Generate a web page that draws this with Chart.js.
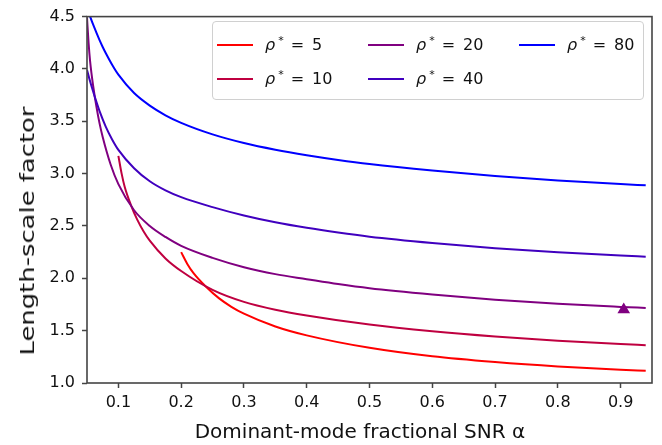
<!DOCTYPE html>
<html>
<head>
<meta charset="utf-8">
<script src="https://cdn.jsdelivr.net/npm/chart.js@4.4.1/dist/chart.umd.min.js"></script>
<style>
  body { margin: 0; background: #fff; }
  #wrap { position: relative; width: 662px; height: 445px; }
  #ylab {
    position: absolute; left: 27px; top: 231px; white-space: nowrap;
    font: 19px 'DejaVu Sans', sans-serif; color: #111;
    transform: translate(-50%, -50%) rotate(-90deg) scaleX(1.36);
  }
  #legend {
    position: absolute; left: 212px; top: 21px; width: 430px; height: 77px;
    border: 1px solid #d0d0d0; border-radius: 4px; background: rgba(255,255,255,0.85);
    font: 16px 'DejaVu Sans', sans-serif; color: #111;
  }
  .item { position: absolute; height: 20px; }
  .swatch { position: absolute; left: 0; top: 9px; width: 36px; height: 2px; }
  .lbl { position: absolute; left: 48px; top: 0; white-space: nowrap; line-height: 20px; }
  .lbl i { font-style: italic; }
  .lbl sup { font-size: 11px; vertical-align: 6px; line-height: 0; margin-left: 3px; }
  .lbl .eq { margin: 0 8px 0 7px; }
</style>
</head>
<body>
<div id="wrap">
  <canvas id="chart"></canvas>
  <div id="ylab">Length-scale factor</div>
  <div id="legend"></div>
</div>
<script>
// tick values
const xTicks = [0.1, 0.2, 0.3, 0.4, 0.5, 0.6, 0.7, 0.8, 0.9];
const yTicks = [1.0, 1.5, 2.0, 2.5, 3.0, 3.5, 4.0, 4.5];

// rho* values and colours (red -> blue)
const rhoValues = [5, 10, 20, 40, 80];
const rhoColors = ['#ff0000', '#bf0040', '#800080', '#4000bf', '#0000ff'];

// length-scale factor vs dominant-mode fractional SNR, one pair per curve
const alpha5 = [0.2, 0.21, 0.22, 0.24, 0.26, 0.28, 0.3, 0.35, 0.4, 0.5, 0.6, 0.7, 0.8, 0.9, 0.94];
const factor5 = [2.25, 2.135, 2.047, 1.917, 1.811, 1.728, 1.662, 1.54, 1.455, 1.336, 1.255, 1.20, 1.158, 1.127, 1.117];

const alpha10 = [0.1, 0.105, 0.11, 0.12, 0.13, 0.14, 0.15, 0.175, 0.2, 0.25, 0.3, 0.35, 0.4, 0.5, 0.6, 0.7, 0.8, 0.9, 0.94];
const factor10 = [3.17, 3.005, 2.875, 2.70, 2.56, 2.45, 2.36, 2.19, 2.07, 1.89, 1.775, 1.70, 1.645, 1.558, 1.494, 1.444, 1.404, 1.372, 1.361];

const alpha20 = [0.05, 0.0525, 0.055, 0.06, 0.065, 0.07, 0.075, 0.0875, 0.1, 0.125, 0.15, 0.175, 0.2, 0.25, 0.3, 0.35, 0.4, 0.45, 0.5, 0.6, 0.7, 0.8, 0.9, 0.94];
const factor20 = [4.49, 4.25, 4.07, 3.83, 3.64, 3.48, 3.35, 3.09, 2.90, 2.65, 2.50, 2.395, 2.31, 2.195, 2.106, 2.04, 1.992, 1.945, 1.905, 1.845, 1.795, 1.756, 1.727, 1.717];

const alpha40 = [0.05, 0.055, 0.06, 0.065, 0.07, 0.08, 0.09, 0.1, 0.125, 0.15, 0.175, 0.2, 0.25, 0.3, 0.35, 0.4, 0.45, 0.5, 0.6, 0.7, 0.8, 0.9, 0.94];
const factor40 = [3.99, 3.88, 3.78, 3.685, 3.597, 3.447, 3.327, 3.227, 3.052, 2.927, 2.84, 2.775, 2.68, 2.60, 2.535, 2.482, 2.437, 2.398, 2.338, 2.288, 2.248, 2.217, 2.207];

const alpha80 = [0.05, 0.055, 0.06, 0.07, 0.075, 0.08, 0.09, 0.1, 0.125, 0.15, 0.175, 0.2, 0.25, 0.3, 0.35, 0.4, 0.45, 0.5, 0.6, 0.7, 0.8, 0.9, 0.94];
const factor80 = [4.585, 4.50, 4.42, 4.275, 4.21, 4.15, 4.04, 3.945, 3.77, 3.65, 3.5575, 3.485, 3.375, 3.2925, 3.2285, 3.176, 3.131, 3.092, 3.03, 2.978, 2.935, 2.90, 2.889];

// marked point
const markerAlpha = [0.905];
const markerFactor = [1.70];

const alphas = [alpha5, alpha10, alpha20, alpha40, alpha80];
const factors = [factor5, factor10, factor20, factor40, factor80];

function pairs(xs, ys) {
    return xs.map((x, i) => ({ x: x, y: ys[i] }));
}

Chart.defaults.font.family = "'DejaVu Sans', sans-serif";
Chart.defaults.color = '#111';

const datasets = rhoValues.map((rho, i) => ({
    label: 'ρ* = ' + rho,
    data: pairs(alphas[i], factors[i]),
    borderColor: rhoColors[i],
    backgroundColor: rhoColors[i],
    borderWidth: 2,
    pointRadius: 0,
    cubicInterpolationMode: 'monotone',
    order: rhoValues.length - i
}));

datasets.push({
    label: 'marker',
    data: pairs(markerAlpha, markerFactor),
    showLine: false,
    pointStyle: 'triangle',
    pointRadius: 7.3,
    pointBackgroundColor: '#800080',
    pointBorderColor: '#800080',
    pointBorderWidth: 0,
    order: 0
});

// frame round the plot area
const frame = {
    id: 'frame',
    afterDatasetsDraw(chart) {
        const a = chart.chartArea;
        const ctx = chart.ctx;
        ctx.save();
        ctx.strokeStyle = '#444';
        ctx.lineWidth = 1.6;
        ctx.strokeRect(a.left, a.top, a.right - a.left, a.bottom - a.top);
        ctx.restore();
    }
};

const ctx = document.getElementById('chart').getContext('2d');
const chart = new Chart(ctx, {
    type: 'line',
    data: { datasets: datasets },
    options: {
        responsive: true,
        maintainAspectRatio: false,
        animation: false,
        layout: { padding: { top: 14, right: 10, left: 0, bottom: 0 } },
        plugins: { legend: { display: false }, tooltip: { enabled: false } },
        scales: {
            x: {
                type: 'linear',
                min: 0.05,
                max: 0.95,
                afterBuildTicks: axis => { axis.ticks = xTicks.map(v => ({ value: v })); },
                afterFit: axis => { axis.height = 62; },
                ticks: {
                    autoSkip: false, maxRotation: 0, padding: 5,
                    font: { size: 16 }, color: '#111',
                    callback: v => v.toFixed(1)
                },
                grid: { drawOnChartArea: false, drawTicks: true, tickLength: 5, color: '#444', tickWidth: 1.5 },
                border: { display: false },
                title: {
                    display: true,
                    // trailing spaces nudge the label a little left, as in the original
                    text: 'Dominant-mode fractional SNR α\u00a0\u00a0\u00a0',
                    font: { size: 20 }, color: '#111',
                    padding: { top: 4, bottom: 0 }
                }
            },
            y: {
                type: 'linear',
                min: 1.0,
                max: 4.5,
                afterBuildTicks: axis => { axis.ticks = yTicks.map(v => ({ value: v })); },
                afterFit: axis => { axis.width = 87; },
                ticks: {
                    autoSkip: false, padding: 7,
                    font: { size: 16 }, color: '#111',
                    callback: v => v.toFixed(1)
                },
                grid: { drawOnChartArea: false, drawTicks: true, tickLength: 5, color: '#444', tickWidth: 1.5 },
                border: { display: false }
            }
        }
    },
    plugins: [frame]
});

// legend laid out in three columns like the original
const legendBox = document.getElementById('legend');
rhoValues.forEach((rho, k) => {
    const col = Math.floor(k / 2);
    const row = k % 2;
    const item = document.createElement('div');
    item.className = 'item';
    item.style.left = (4 + col * 151) + 'px';
    item.style.top = (13 + row * 34) + 'px';
    item.innerHTML = '<div class="swatch" style="background:' + chart.data.datasets[k].borderColor + '"></div>' +
        '<div class="lbl"><i>ρ</i><sup>*</sup><span class="eq">=</span>' + rho + '</div>';
    legendBox.appendChild(item);
});
</script>
</body>
</html>
